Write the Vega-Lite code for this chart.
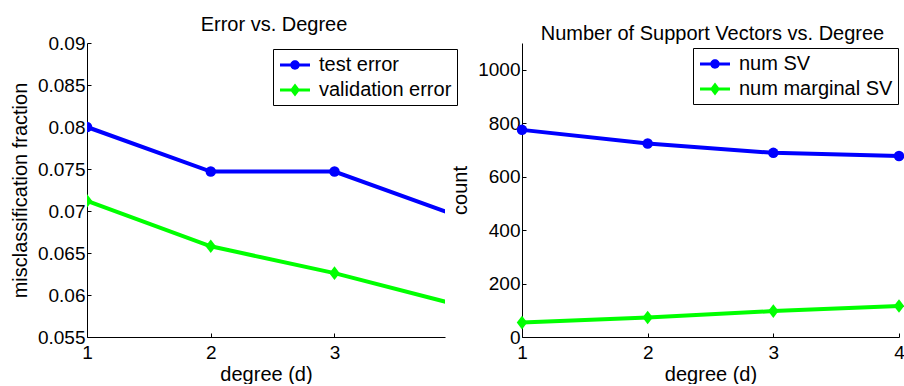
{
  "$schema": "https://vega.github.io/schema/vega-lite/v6.json",
  "background": "white",
  "padding": {"left": 10, "top": 15, "right": 0, "bottom": 0},
  "bounds": "flush",
  "spacing": 77,
  "config": {
    "font": "Liberation Sans",
    "view": {"stroke": null},
    "axis": {
      "labelFont": "Liberation Sans", "labelFontSize": 19, "labelColor": "black",
      "titleFont": "Liberation Sans", "titleFontSize": 20, "titleFontWeight": "normal", "titleColor": "black",
      "domainColor": "black", "domainWidth": 1, "tickColor": "black", "tickWidth": 1, "tickSize": -4,
      "grid": false, "labelFlush": false, "labelOverlap": false
    },
    "axisX": {"labelPadding": 10, "titlePadding": 2},
    "axisY": {"labelPadding": 6, "titlePadding": 7},
    "title": {"font": "Liberation Sans", "fontSize": 20, "fontWeight": "normal", "color": "black", "baseline": "alphabetic", "offset": -1},
    "legend": {
      "labelFont": "Liberation Sans", "labelFontSize": 20, "labelColor": "black",
      "strokeColor": "black", "fillColor": "white", "padding": 5, "rowPadding": 4,
      "symbolSize": 400, "symbolOpacity": 1, "symbolOffset": 6, "labelLimit": 300, "labelOffset": 13
    }
  },
  "resolve": {
    "scale": {"color": "independent", "shape": "independent", "x": "independent", "y": "independent"},
    "legend": {"color": "independent", "shape": "independent"}
  },
  "hconcat": [
    {
      "width": 358,
      "height": 294,
      "title": {"text": "Error vs. Degree", "dx": 8},
      "data": {"values": [
        {"degree": 1, "error": 0.0800, "series": "test error"},
        {"degree": 2, "error": 0.0747, "series": "test error"},
        {"degree": 3, "error": 0.0747, "series": "test error"},
        {"degree": 4, "error": 0.0694, "series": "test error"},
        {"degree": 1, "error": 0.0712, "series": "validation error"},
        {"degree": 2, "error": 0.0658, "series": "validation error"},
        {"degree": 3, "error": 0.0626, "series": "validation error"},
        {"degree": 4, "error": 0.0588, "series": "validation error"}
      ]},
      "encoding": {
        "x": {"field": "degree", "type": "quantitative",
              "scale": {"domain": [1, 3.893], "nice": false, "zero": false},
              "axis": {"title": "degree (d)", "values": [1, 2, 3], "format": "d"}},
        "y": {"field": "error", "type": "quantitative",
              "scale": {"domain": [0.055, 0.09], "nice": false, "zero": false},
              "axis": {"title": "misclassification fraction", "values": [0.055, 0.06, 0.065, 0.07, 0.075, 0.08, 0.085, 0.09], "format": ".3~f"}}
      },
      "layer": [
        {"mark": {"type": "line", "strokeWidth": 4, "clip": true},
         "encoding": {"color": {"field": "series", "type": "nominal",
           "scale": {"domain": ["test error", "validation error"], "range": ["#0000ff", "#00ff00"]}, "legend": null}}},
        {"mark": {"type": "point", "filled": true, "opacity": 1, "size": 110, "clip": true},
         "encoding": {
           "color": {"field": "series", "type": "nominal",
             "scale": {"domain": ["test error", "validation error"], "range": ["#0000ff", "#00ff00"]}, "legend": null},
           "shape": {"field": "series", "type": "nominal",
             "scale": {"domain": ["test error", "validation error"], "range": ["circle", "M0,-1.3L1,0L0,1.3L-1,0Z"]}, "legend": null}}},
        {"mark": {"type": "point", "filled": true, "opacity": 0, "clip": true},
         "encoding": {
           "color": {"field": "series", "type": "nominal",
             "scale": {"domain": ["test error", "validation error"], "range": ["#0000ff", "#00ff00"]},
             "legend": {"title": null, "orient": "none", "legendX": 186, "legendY": 6}},
           "shape": {"field": "series", "type": "nominal",
             "scale": {"domain": ["test error", "validation error"],
                       "range": ["M-1.5,-0.15H1.5V0.15H-1.5ZM-0.47,0A0.47,0.47,0,1,1,0.47,0A0.47,0.47,0,1,1,-0.47,0Z", "M-1.5,-0.15H1.5V0.15H-1.5ZM0,-0.65L0.5,0L0,0.65L-0.5,0Z"]},
             "legend": {"title": null, "orient": "none", "legendX": 186, "legendY": 6}}}}
      ],
      "resolve": {"scale": {"color": "independent", "shape": "independent"}, "legend": {"color": "independent", "shape": "independent"}}
    },
    {
      "width": 377,
      "height": 294,
      "title": {"text": "Number of Support Vectors vs. Degree", "dx": 2},
      "data": {"values": [
        {"degree": 1, "count": 775, "series": "num SV"},
        {"degree": 2, "count": 724, "series": "num SV"},
        {"degree": 3, "count": 689, "series": "num SV"},
        {"degree": 4, "count": 677, "series": "num SV"},
        {"degree": 1, "count": 54, "series": "num marginal SV"},
        {"degree": 2, "count": 73, "series": "num marginal SV"},
        {"degree": 3, "count": 97, "series": "num marginal SV"},
        {"degree": 4, "count": 116, "series": "num marginal SV"}
      ]},
      "encoding": {
        "x": {"field": "degree", "type": "quantitative",
              "scale": {"domain": [1, 4], "nice": false, "zero": false},
              "axis": {"title": "degree (d)", "values": [1, 2, 3, 4], "format": "d"}},
        "y": {"field": "count", "type": "quantitative",
              "scale": {"domain": [0, 1100], "nice": false},
              "axis": {"title": "count", "values": [0, 200, 400, 600, 800, 1000], "format": "d"}}
      },
      "layer": [
        {"mark": {"type": "line", "strokeWidth": 4},
         "encoding": {"color": {"field": "series", "type": "nominal",
           "scale": {"domain": ["num SV", "num marginal SV"], "range": ["#0000ff", "#00ff00"]}, "legend": null}}},
        {"mark": {"type": "point", "filled": true, "opacity": 1, "size": 110},
         "encoding": {
           "color": {"field": "series", "type": "nominal",
             "scale": {"domain": ["num SV", "num marginal SV"], "range": ["#0000ff", "#00ff00"]}, "legend": null},
           "shape": {"field": "series", "type": "nominal",
             "scale": {"domain": ["num SV", "num marginal SV"], "range": ["circle", "M0,-1.3L1,0L0,1.3L-1,0Z"]}, "legend": null}}},
        {"mark": {"type": "point", "filled": true, "opacity": 0},
         "encoding": {
           "color": {"field": "series", "type": "nominal",
             "scale": {"domain": ["num SV", "num marginal SV"], "range": ["#0000ff", "#00ff00"]},
             "legend": {"title": null, "orient": "none", "legendX": 171, "legendY": 5}},
           "shape": {"field": "series", "type": "nominal",
             "scale": {"domain": ["num SV", "num marginal SV"],
                       "range": ["M-1.5,-0.15H1.5V0.15H-1.5ZM-0.47,0A0.47,0.47,0,1,1,0.47,0A0.47,0.47,0,1,1,-0.47,0Z", "M-1.5,-0.15H1.5V0.15H-1.5ZM0,-0.65L0.5,0L0,0.65L-0.5,0Z"]},
             "legend": {"title": null, "orient": "none", "legendX": 171, "legendY": 5}}}}
      ],
      "resolve": {"scale": {"color": "independent", "shape": "independent"}, "legend": {"color": "independent", "shape": "independent"}}
    }
  ]
}
